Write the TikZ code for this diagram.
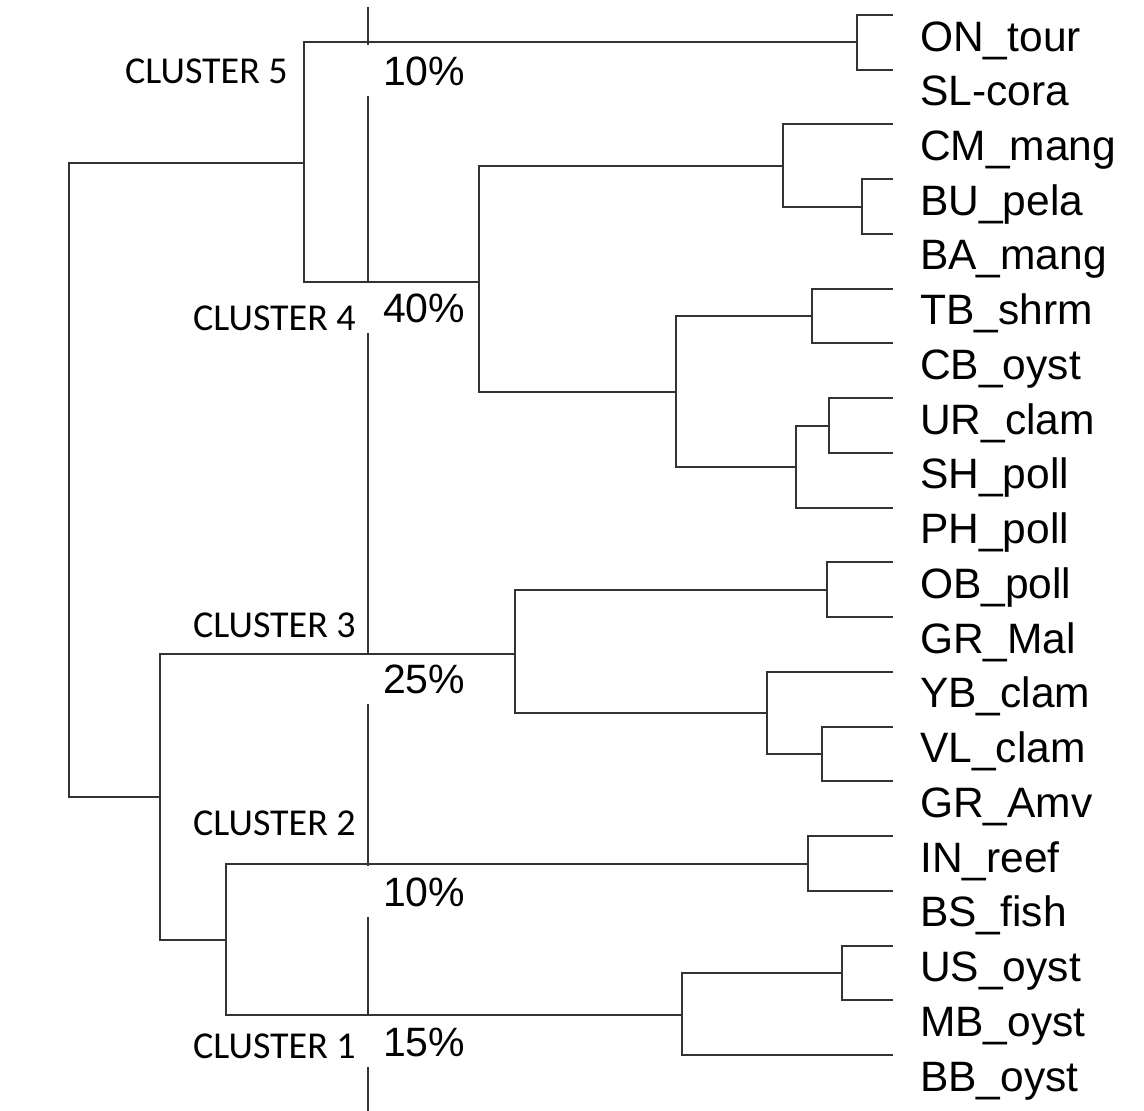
\documentclass[tikz,border=0pt]{standalone}
\usepackage{fontspec}
\setmainfont{Liberation Sans}
\newfontfamily\clusterfont{Carlito}

\begin{document}
\begin{tikzpicture}[x=1pt,y=-1pt,
  branch/.style={draw=black!80,line width=2pt},
  leaf/.style={anchor=base west,inner sep=0pt,font=\fontsize{42.5}{42.5}\selectfont},
  cluster/.style={anchor=base east,inner sep=0pt,font=\clusterfont\fontsize{38}{38}\selectfont},
  pct/.style={anchor=base west,inner xsep=0pt,inner ysep=11pt,text height=29pt,text depth=0pt,
    font=\fontsize{41}{41}\selectfont}]
\useasboundingbox (0,0) rectangle (1144,1111);

\foreach \name [count=\i] in {ON\_tour,SL-cora,CM\_mang,BU\_pela,BA\_mang,TB\_shrm,CB\_oyst,
    UR\_clam,SH\_poll,PH\_poll,OB\_poll,GR\_Mal,YB\_clam,VL\_clam,GR\_Amv,IN\_reef,BS\_fish,
    US\_oyst,MB\_oyst,BB\_oyst}{
  \coordinate (l\i) at (893,{15+54.74*(\i-1)});
  \node[leaf] (t\i) at (920,{51+54.74*(\i-1)}) {\name};
}

\coordinate (n1) at (857,42);
\coordinate (n2) at (862,207);
\coordinate (n3) at (783,166);
\coordinate (n4) at (812,316);
\coordinate (n5) at (829,426);
\coordinate (n6) at (796,467);
\coordinate (n7) at (676,392);
\coordinate (n8) at (479,282);
\coordinate (c5) at (304,163);
\coordinate (n9) at (827,590);
\coordinate (n10) at (822,754);
\coordinate (n11) at (767,713);
\coordinate (n12) at (515,654);
\coordinate (n13) at (808,864);
\coordinate (n14) at (842,973);
\coordinate (n15) at (682,1015);
\coordinate (n16) at (226,940);
\coordinate (n17) at (160,797);
\coordinate (root) at (69,480);

\draw[branch] (l1) -| (n1) |- (l2);
\draw[branch] (l4) -| (n2) |- (l5);
\draw[branch] (l3) -| (n3) |- (n2);
\draw[branch] (l6) -| (n4) |- (l7);
\draw[branch] (l8) -| (n5) |- (l9);
\draw[branch] (n5) -| (n6) |- (l10);
\draw[branch] (n4) -| (n7) |- (n6);
\draw[branch] (n3) -| (n8) |- (n7);
\draw[branch] (n1) -| (c5) |- (n8);
\draw[branch] (l11) -| (n9) |- (l12);
\draw[branch] (l14) -| (n10) |- (l15);
\draw[branch] (l13) -| (n11) |- (n10);
\draw[branch] (n9) -| (n12) |- (n11);
\draw[branch] (l16) -| (n13) |- (l17);
\draw[branch] (l18) -| (n14) |- (l19);
\draw[branch] (n14) -| (n15) |- (l20);
\draw[branch] (n13) -| (n16) |- (n15);
\draw[branch] (n12) -| (n17) |- (n16);
\draw[branch] (c5) -| (root) |- (n17);

\node[pct] (p5) at (383,85) {10\%};
\node[pct] (p4) at (383,322) {40\%};
\node[pct] (p3) at (383,693) {25\%};
\node[pct] (p2) at (383,906) {10\%};
\node[pct] (p1) at (383,1056) {15\%};

\node[cluster] (k5) at (288,83) {CLUSTER 5};
\node[cluster] (k4) at (356,330) {CLUSTER 4};
\node[cluster] (k3) at (356,637) {CLUSTER 3};
\node[cluster] (k2) at (356,835) {CLUSTER 2};
\node[cluster] (k1) at (356,1058) {CLUSTER 1};

\coordinate (cuttop) at (368,7);
\coordinate (cutbot) at (368,1111);
\draw[branch] (cuttop) -- (p5.north -| cuttop);
\draw[branch] (p5.south -| cuttop) -- (p4.north -| cuttop);
\draw[branch] (p4.south -| cuttop) -- (p3.north -| cuttop);
\draw[branch] (p3.south -| cuttop) -- (p2.north -| cuttop);
\draw[branch] (p2.south -| cuttop) -- (p1.north -| cuttop);
\draw[branch] (p1.south -| cuttop) -- (cutbot);
\end{tikzpicture}
\end{document}
